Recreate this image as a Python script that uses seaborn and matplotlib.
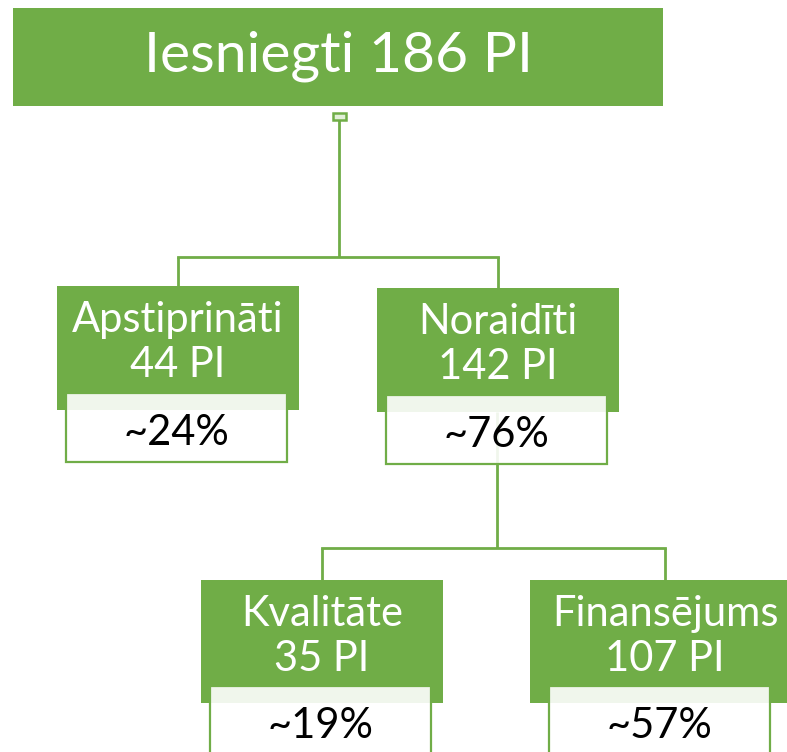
import matplotlib
matplotlib.use('Agg')
import matplotlib.pyplot as plt
import matplotlib.patches as mpatches
import seaborn as sns

# node data
root_label = 'Iesniegti'
root_count = 186
node_labels = ['Apstiprināti', 'Noraidīti', 'Kvalitāte', 'Finansējums']
node_counts = [44, 142, 35, 107]
node_percents = [24, 76, 19, 57]
node_parents = [-1, -1, 1, 1]  # -1 = root

# layout in pixel space (left, top, width, height) of the green boxes
box_layout = [
    (57, 286, 242, 124),
    (377, 288, 242, 124),
    (201, 580, 242, 123),
    (530, 580, 270, 123),
]
root_box = (13, 8, 650, 98)

GREEN = '#70AD47'
FONT = ['Lato', 'DejaVu Sans']

sns.set_theme(style='white')
plt.rcParams['font.family'] = FONT

fig = plt.figure(figsize=(7.87, 7.52), dpi=100)
ax = fig.add_axes([0, 0, 1, 1])
ax.set_xlim(0, 787)
ax.set_ylim(752, 0)
ax.axis('off')

# root box
rx, ry, rw, rh = root_box
ax.add_patch(mpatches.Rectangle((rx, ry), rw, rh, facecolor=GREEN, edgecolor='none', zorder=2))
ax.text(rx + rw / 2, 71, f'{root_label} {root_count} PI', color='white', fontsize=41,
        ha='center', va='baseline', zorder=5)

# small collapse marker below root
root_cx = 339
ax.add_patch(mpatches.Rectangle((root_cx - 6.5, 113), 13, 7, facecolor='#E2EFD9',
                                edgecolor=GREEN, lw=1.8, zorder=3))


def centre(i):
    x, y, w, h = box_layout[i]
    return x + w / 2


# connectors
def draw_children(parent_x, parent_bottom, bar_y, kids):
    xs = [centre(k) for k in kids]
    ax.plot([parent_x, parent_x], [parent_bottom, bar_y], color=GREEN, lw=2, zorder=1,
            solid_capstyle='butt')
    ax.plot([min(xs), max(xs)], [bar_y, bar_y], color=GREEN, lw=2, zorder=1,
            solid_capstyle='projecting')
    for k, x in zip(kids, xs):
        ax.plot([x, x], [bar_y, box_layout[k][1]], color=GREEN, lw=2, zorder=1,
                solid_capstyle='butt')


draw_children(root_cx, 120, 257, [i for i, p in enumerate(node_parents) if p == -1])
draw_children(497, 412, 548, [i for i, p in enumerate(node_parents) if p == 1])

# nodes
for i, (lab, cnt, pct) in enumerate(zip(node_labels, node_counts, node_percents)):
    x, y, w, h = box_layout[i]
    cx = x + w / 2
    ax.add_patch(mpatches.Rectangle((x, y), w, h, facecolor=GREEN, edgecolor='none', zorder=2))
    ax.text(cx, y + 46, lab, color='white', fontsize=30, ha='center', va='baseline', zorder=5)
    ax.text(cx, y + 91, f'{cnt} PI', color='white', fontsize=30, ha='center', va='baseline', zorder=5)
    # percentage card overlapping the bottom of the green box
    wx = x + 9 if w < 250 else x + 19
    ax.add_patch(mpatches.Rectangle((wx, y + h - 17), 221, 69, facecolor='white', alpha=0.9,
                                    edgecolor='none', zorder=3))
    ax.add_patch(mpatches.Rectangle((wx, y + h - 17), 221, 69, facecolor='none',
                                    edgecolor=GREEN, lw=1.6, zorder=3))
    ax.text(wx + 110.5, y + h + 35, f'~{pct}%', color='black', fontsize=30,
            ha='center', va='baseline', zorder=5)

fig.savefig('out.png', dpi=100)
